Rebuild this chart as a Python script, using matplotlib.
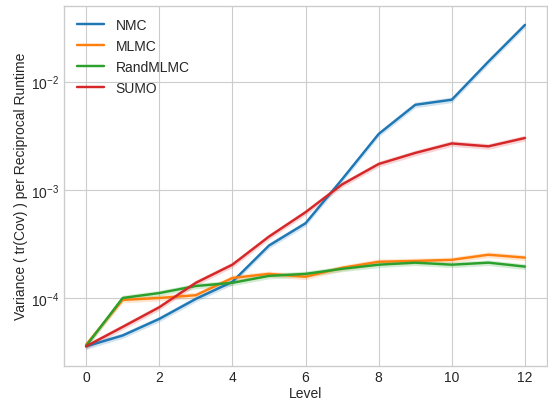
import numpy as np
import matplotlib
matplotlib.use("Agg")
import matplotlib.pyplot as plt

plt.style.use("seaborn-v0_8-whitegrid")
plt.rcParams['font.family'] = ['Liberation Sans', 'DejaVu Sans']

levels = list(range(13))
nmc = [3.57e-5, 4.5e-5, 6.4e-5, 9.8e-5, 1.41e-4, 3.05e-4, 4.9e-4, 1.25e-3, 3.28e-3, 6.1e-3, 6.8e-3, 1.53e-2, 3.34e-2]
mlmc = [3.7e-5, 9.6e-5, 1.0e-4, 1.06e-4, 1.53e-4, 1.67e-4, 1.57e-4, 1.9e-4, 2.16e-4, 2.2e-4, 2.25e-4, 2.51e-4, 2.36e-4]
randmlmc = [3.6e-5, 1.0e-4, 1.11e-4, 1.29e-4, 1.38e-4, 1.6e-4, 1.67e-4, 1.86e-4, 2.03e-4, 2.12e-4, 2.03e-4, 2.12e-4, 1.95e-4]
sumo = [3.57e-5, 5.4e-5, 8.2e-5, 1.38e-4, 2.03e-4, 3.69e-4, 6.2e-4, 1.12e-3, 1.73e-3, 2.19e-3, 2.68e-3, 2.52e-3, 3.01e-3]

series = [("NMC", nmc, "#1f77b4"), ("MLMC", mlmc, "#ff7f0e"),
          ("RandMLMC", randmlmc, "#2ca02c"), ("SUMO", sumo, "#d62728")]
band = 0.06

fig = plt.figure(figsize=(5.48, 4.02), dpi=100)
ax = fig.add_axes([0.117, 0.088, 0.881, 0.895])
for name, vals, col in series:
    v = np.array(vals)
    ax.plot(levels, v, color=col, lw=1.75, label=name)
    ax.fill_between(levels, v * (1 - band), v * (1 + band), color=col, alpha=0.2, lw=0)
ax.set_yscale("log")
ax.set_xticks([0, 2, 4, 6, 8, 10, 12])
ax.set_xlabel("Level", fontsize=10, labelpad=1)
ax.set_ylabel("Variance ( tr(Cov) ) per Reciprocal Runtime", fontsize=10, labelpad=2)
ax.tick_params(labelsize=10)
ax.legend(loc="upper left", fontsize=10, frameon=False)
for s in ax.spines.values():
    s.set_color("0.8")
fig.savefig("out.png", dpi=100)
